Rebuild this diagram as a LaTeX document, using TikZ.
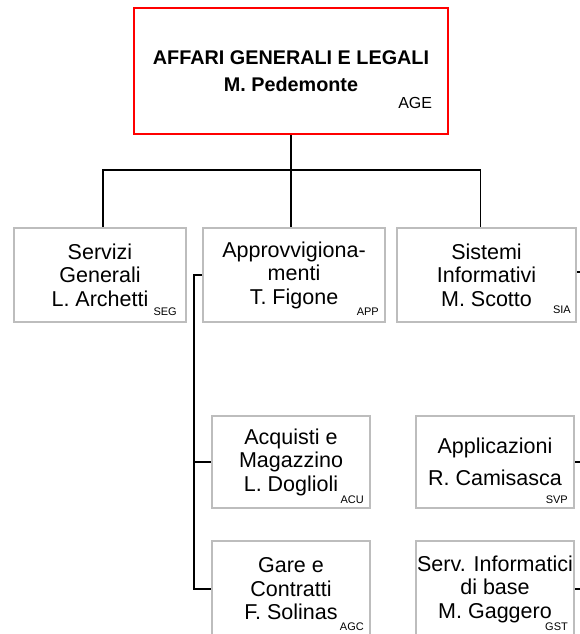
\documentclass[tikz,border=0pt]{standalone}
\usepackage{fontspec}
\setmainfont{Liberation Sans}
\definecolor{boxgrey}{HTML}{BDBDBD}
\begin{document}
\begin{tikzpicture}[x=1pt, y=-1pt,
		unit/.style={draw=boxgrey, line width=2pt, align=center, inner sep=0pt,
			font=\fontsize{21.5}{23.5}\selectfont},
		head/.style={draw=red, line width=2.5pt, align=center, inner sep=0pt,
			font=\bfseries\fontsize{19.8}{27}\selectfont},
		code/.style={anchor=base east, inner sep=0pt, font=\fontsize{11}{12}\selectfont},
		link/.style={line width=1.4pt, black}
		]
	\useasboundingbox (0,0) rectangle (580,634);
	\node [head, minimum width=314pt, minimum height=126pt] (age) at (291,71) {AFFARI GENERALI E LEGALI\\M. Pedemonte};
	\node [code, font=\fontsize{16}{18}\selectfont] (agec) at ([xshift=-17pt,yshift=27pt]age.south east) {AGE};
	\node [unit, minimum width=172pt, minimum height=94pt] (seg) at (100,275) {Servizi\\Generali\\L. Archetti};
	\node [unit, minimum width=182pt, minimum height=94pt] (app) at (294,275) {Approvvigiona-\\menti\\T. Figone};
	\node [unit, minimum width=179pt, minimum height=94pt] (sia) at (486.5,275) {Sistemi\\Informativi\\M. Scotto};
	\node [unit, minimum width=158pt, minimum height=92pt] (acu) at (291,462) {Acquisti e\\Magazzino\\L. Doglioli};
	\node [unit, minimum width=158pt, minimum height=96pt] (agc) at (291,589) {Gare e\\Contratti\\F. Solinas};
	\node [unit, minimum width=158pt, minimum height=92pt] (svp) at (495,462) {Applicazioni\\[8pt]R. Camisasca};
	\node [unit, minimum width=158pt, minimum height=96pt] (gst) at (495,589) {Serv. Informatici\\di base\\M. Gaggero};
	\node [code] (segc) at ([xshift=-10pt,yshift=8pt]seg.south east) {SEG};
	\node [code] (appc) at ([xshift=-7pt,yshift=8pt]app.south east) {APP};
	\node [code] (siac) at ([xshift=-6pt,yshift=10pt]sia.south east) {SIA};
	\node [code] (acuc) at ([xshift=-7pt,yshift=6pt]acu.south east) {ACU};
	\node [code] (agcc) at ([xshift=-7pt,yshift=8pt]agc.south east) {AGC};
	\node [code] (svpc) at ([xshift=-7pt,yshift=6pt]svp.south east) {SVP};
	\node [code] (gstc) at ([xshift=-7pt,yshift=8pt]gst.south east) {GST};
	\coordinate (bus) at (291,170);
	\coordinate (spine) at ([xshift=-8pt]app.west);
	\coordinate (edge) at (580,0);
	\draw [link] (age.south) -- (age.south |- app.north);
	\draw [link] ([xshift=3pt]seg.north) |- (bus) -| ([xshift=-6pt]sia.north);
	\draw [link] (app.west) -- (spine) |- (agc.west);
	\draw [link] (spine |- acu.west) -- (acu.west);
	\draw [link] ([yshift=3pt]sia.east) -- ([yshift=3pt]sia.east -| edge);
	\draw [link] (svp.east) -- (svp.east -| edge);
	\draw [link] (gst.east) -- (gst.east -| edge);
\end{tikzpicture}
\end{document}
